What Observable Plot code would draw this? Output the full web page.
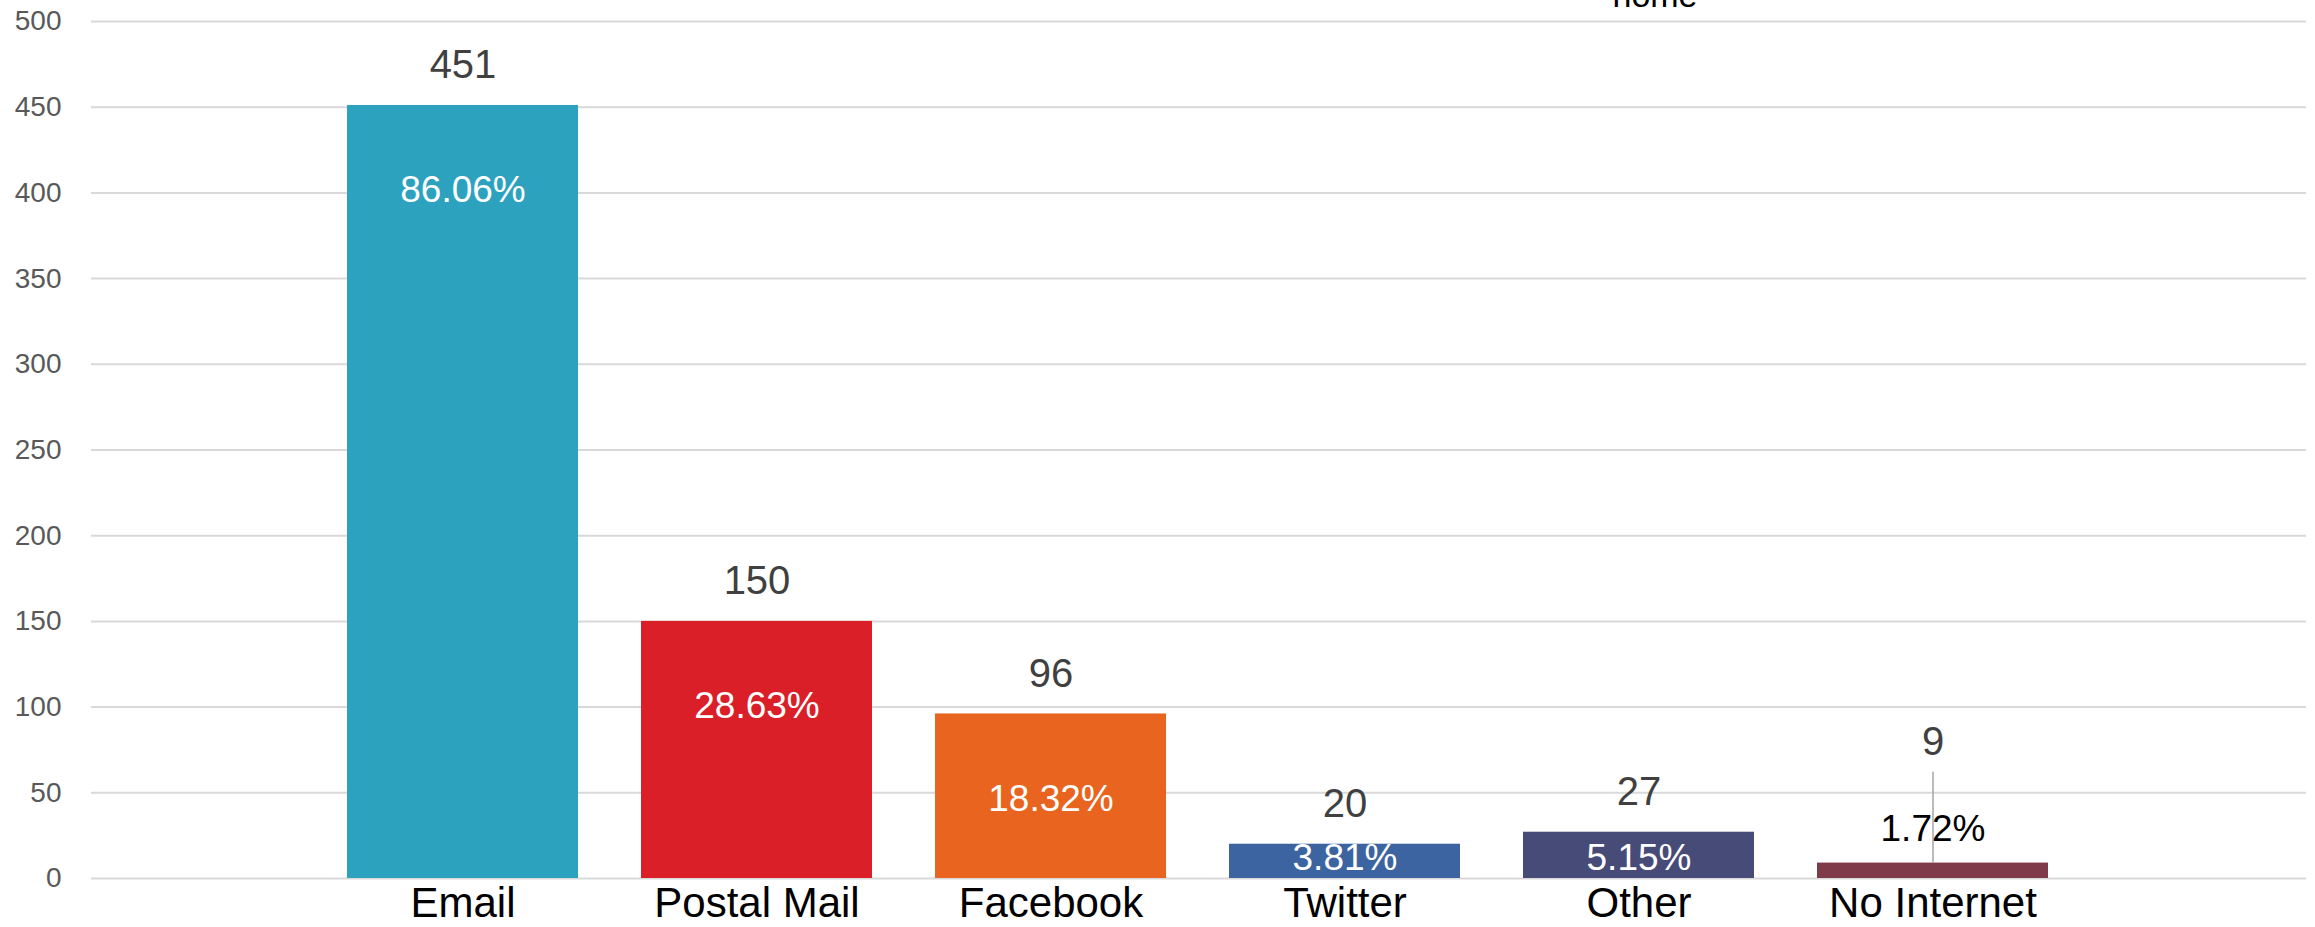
<!DOCTYPE html>
<html>
<head>
<meta charset="utf-8">
<script src="https://cdn.jsdelivr.net/npm/d3@7"></script>
<script src="https://cdn.jsdelivr.net/npm/@observablehq/plot@0.6"></script>
<style>
  html, body { margin: 0; padding: 0; background: #fff; overflow: hidden; }
  #wrap { position: relative; width: 2315px; height: 927px; }
  #title { position: absolute; top: -22px; left: 1655px; transform: translateX(-50%);
           font-family: "Liberation Sans", Arial, sans-serif; font-size: 34px; line-height: 34px;
           color: #000; white-space: nowrap; }
  #chart { position: absolute; top: 0; left: 0; }
</style>
</head>
<body>
<div id="wrap">
  <div id="chart"></div>
  <div id="title">home</div>
</div>
<script>
const categories = ["Email", "Postal Mail", "Facebook", "Twitter", "Other", "No Internet"];
const counts = [451, 150, 96, 20, 27, 9];
const percentLabels = ["86.06%", "28.63%", "18.32%", "3.81%", "5.15%", "1.72%"];
const barColors = ["#2ca2bf", "#da1f28", "#e9641e", "#3b64a0", "#474b78", "#7f3b4a"];
const yTicks = [0, 50, 100, 150, 200, 250, 300, 350, 400, 450, 500];

const data = categories.map((c, i) => ({
  category: c, value: counts[i], pct: percentLabels[i], color: barColors[i],
  small: counts[i] < 15
}));

const font = "Liberation Sans, Arial, sans-serif";

const chart = Plot.plot({
  width: 2315,
  height: 927,
  marginTop: 21,
  marginBottom: 49,
  marginLeft: 91,
  marginRight: 9,
  style: { fontFamily: font, background: "#fff" },
  x: { domain: categories, range: [282, 2114], padding: 0.213, label: null },
  y: { domain: [0, 500], ticks: yTicks, label: null },
  marks: [
    Plot.gridY(yTicks, { stroke: "#d9d9d9", strokeOpacity: 1, strokeWidth: 2 }),
    Plot.axisY(yTicks, { tickSize: 0, tickPadding: 30, fontSize: 28, color: "#595959", label: null }),
    Plot.axisX({ tickSize: 0, tickPadding: 9, fontSize: 42, color: "#000", label: null }),
    Plot.barY(data, { x: "category", y: "value", fill: "color" }),
    // leader line for the small bar
    Plot.ruleX(data.filter(d => d.small), { x: "category", y1: "value", y2: d => d.value + 53, stroke: "#a6a6a6", strokeWidth: 1.5 }),
    // value labels above bars
    Plot.text(data, {
      x: "category",
      y: d => d.small ? d.value + 47 : d.value,
      dy: -40,
      text: d => String(d.value),
      fontSize: 40, fill: "#404040", lineAnchor: "middle"
    }),
    // percentage labels
    Plot.text(data, {
      x: "category",
      y: d => d.small ? d.value + 20 : Math.max(d.value - 49.6, 11.7),
      text: "pct",
      fontSize: 37, fill: d => d.small ? "#000" : "#fff", lineAnchor: "middle"
    })
  ]
});
document.getElementById("chart").append(chart);
</script>
</body>
</html>
